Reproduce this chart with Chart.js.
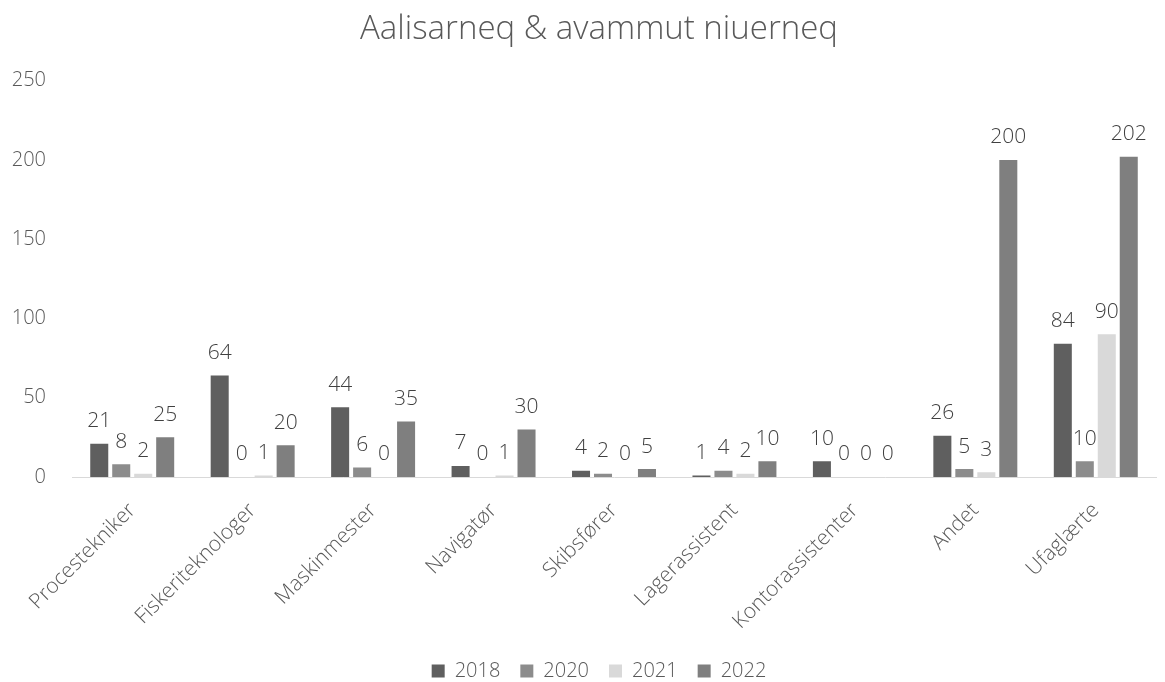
<!DOCTYPE html>
<html>
<head>
<meta charset="utf-8">
<script src="https://cdn.jsdelivr.net/npm/chart.js@4"></script>
<style>
    html, body { margin: 0; padding: 0; background: #fff; }
    #wrap { width: 1165px; height: 682px; }
</style>
</head>
<body>
<div id="wrap"><canvas id="myChart"></canvas></div>
<script>
var categories = ["Procestekniker", "Fiskeriteknologer", "Maskinmester", "Navigatør", "Skibsfører", "Lagerassistent", "Kontorassistenter", "Andet", "Ufaglærte"];
var years = ["2018", "2020", "2021", "2022"];
var values2018 = [21, 64, 44, 7, 4, 1, 10, 26, 84];
var values2020 = [8, 0, 6, 0, 2, 4, 0, 5, 10];
var values2021 = [2, 1, 0, 1, 0, 2, 0, 3, 90];
var values2022 = [25, 20, 35, 30, 5, 10, 0, 200, 202];
var colors = ["#5f5f5f", "#8c8c8c", "#d9d9d9", "#7f7f7f"];

var fontFamily = "'Open Sans', 'Segoe UI', sans-serif";

// simple value labels above the bars
var valueLabels = {
    id: "valueLabels",
    afterDatasetsDraw: function (chart) {
        var ctx = chart.ctx;
        ctx.save();
        ctx.font = "300 21px " + fontFamily;
        ctx.fillStyle = "#404040";
        ctx.textAlign = "center";
        ctx.textBaseline = "bottom";
        chart.data.datasets.forEach(function (ds, i) {
            var meta = chart.getDatasetMeta(i);
            meta.data.forEach(function (bar, j) {
                ctx.fillText(ds.data[j], bar.x, bar.y - 12);
            });
        });
        ctx.restore();
    }
};

// let the y axis labels use the left padding too (title/legend stay centred like the original)
var widenYAxis = {
    id: "widenYAxis",
    afterLayout: function (chart) {
        chart.scales.y.left = 0;
    }
};

var seriesData = [values2018, values2020, values2021, values2022];
var datasets = years.map(function (y, i) {
    return {
        label: y,
        data: seriesData[i],
        backgroundColor: colors[i],
        borderWidth: 0,
        categoryPercentage: 0.73,
        barPercentage: 0.82
    };
});

var ctx = document.getElementById("myChart").getContext("2d");
var myChart = new Chart(ctx, {
    type: "bar",
    data: {
        labels: categories,
        datasets: datasets
    },
    options: {
        responsive: true,
        maintainAspectRatio: false,
        animation: false,
        layout: {
            padding: { left: 42, right: 9, top: 0, bottom: -9 }
        },
        scales: {
            x: {
                grid: { display: false },
                border: { display: true, color: "#d9d9d9", width: 1 },
                ticks: {
                    color: "#595959",
                    font: { family: fontFamily, size: 21, weight: 300 },
                    minRotation: 45,
                    maxRotation: 45,
                    padding: 13
                },
                afterFit: function (scale) {
                    scale.height = 164;
                }
            },
            y: {
                min: 0,
                max: 250,
                grid: { display: false },
                border: { display: false },
                ticks: {
                    stepSize: 50,
                    color: "#595959",
                    font: { family: fontFamily, size: 20, weight: 300 },
                    padding: 18
                },
                afterFit: function (scale) {
                    scale.width = 30;
                }
            }
        },
        plugins: {
            legend: {
                display: true,
                position: "bottom",
                labels: {
                    color: "#595959",
                    font: { family: fontFamily, size: 20, weight: 300 },
                    boxWidth: 13,
                    boxHeight: 13,
                    padding: 20
                }
            },
            title: {
                display: true,
                text: "Aalisarneq & avammut niuerneq",
                color: "#595959",
                font: { family: fontFamily, size: 33, weight: 300 },
                padding: { top: 10, bottom: 31 }
            },
            tooltip: { enabled: false }
        }
    },
    plugins: [valueLabels, widenYAxis]
});
</script>
</body>
</html>
